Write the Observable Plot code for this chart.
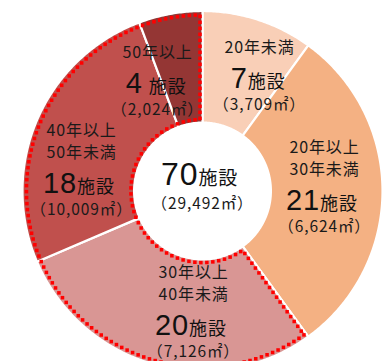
<!DOCTYPE html>
<html><head><meta charset="utf-8">
<script src="https://cdn.jsdelivr.net/npm/d3@7"></script>
<script src="https://cdn.jsdelivr.net/npm/@observablehq/plot@0.6"></script>
<style>
body{margin:0;background:#fff}
#chart svg{display:block}
#chart svg text{letter-spacing:0.9px}
</style>
</head><body><div id="chart"></div>
<script>
// ---- data ----
const categories = ["20年未満", "20年以上\n30年未満", "30年以上\n40年未満", "40年以上\n50年未満", "50年以上"];
const counts = [7, 21, 20, 18, 4];
const areas = ["3,709", "6,624", "7,126", "10,009", "2,024"];
const totalCount = 70;
const totalArea = "29,492";
const colors = ["#F9CFB7", "#F4B183", "#D99694", "#C0504D", "#943634"];
const highlighted = [false, false, true, true, true]; // 30年以上 (dotted outline)

// ---- layout ----
const W = 383, H = 361;
const R = 180, CX = 202, CY = 190.5;     // px
const INNER = 0.38, DOT_OUT = 0.978, DOT_IN = 0.398;
const labelAngle = [26.9, 94.5, 183.8, 273.5, 337.3];
const labelRadius = [0.70, 0.68, 0.75, 0.673, 0.647];
const numGap = [0, 0, 0, 0, 6];

const total = d3.sum(counts);
let acc = 0;
const slices = counts.map((c, i) => {
  const a0 = acc / total * 2 * Math.PI; acc += c;
  return {i, cat: categories[i], a0, a1: acc / total * 2 * Math.PI};
});

function sector(a0, a1, r0, r1, key, insetPx = 0) {
  const pts = [];
  const n = Math.max(2, Math.ceil((a1 - a0) / 0.01));
  const off = r => insetPx ? Math.asin(insetPx / (r * R)) : 0;
  for (let k = 0; k <= n; k++) {
    const b0 = a0 + off(r1), b1 = a1 - off(r1);
    const a = b0 + (b1 - b0) * k / n;
    pts.push({key, x: r1 * Math.sin(a), y: r1 * Math.cos(a)});
  }
  for (let k = n; k >= 0; k--) {
    const b0 = a0 + off(r0), b1 = a1 - off(r0);
    const a = b0 + (b1 - b0) * k / n;
    pts.push({key, x: r0 * Math.sin(a), y: r0 * Math.cos(a)});
  }
  pts.push({...pts[0]});
  return pts;
}

// evenly spaced dots along a polyline (spacing in px)
function sampleDots(pts, stepPx) {
  const out = [];
  let carry = 0;
  for (let k = 1; k < pts.length; k++) {
    const p = pts[k - 1], q = pts[k];
    const len = Math.hypot(q.x - p.x, q.y - p.y) * R;
    let t = carry;
    while (t <= len) {
      const f = len ? t / len : 0;
      out.push({x: p.x + (q.x - p.x) * f, y: p.y + (q.y - p.y) * f});
      t += stepPx;
    }
    carry = t - len;
  }
  return out;
}

const slicePts = slices.flatMap(s => sector(s.a0, s.a1, INNER, 1, s.cat));
const hi = slices.filter(s => highlighted[s.i]);
const outline = sector(d3.min(hi, s => s.a0), d3.max(hi, s => s.a1), DOT_IN, DOT_OUT, "hi", 2.5);
const dotPts = sampleDots(outline, 6);

// text rows (x, y in radius units; offsets in px converted)
const rangeRows = [], numRows = [], unitRows = [], areaRows = [], cNumRows = [], cUnitRows = [];
function addCount(lx, ly, dyPx, num, gap, fs, ufs, nr, ur) {
  const n = String(num).length;
  const nw = 0.47 * fs + 0.9, uw = 2 * ufs + 2;
  const tot = n * nw + gap + uw;
  const numEnd = -tot / 2 + n * nw;
  nr.push({x: lx + numEnd / R, y: ly - dyPx / R, text: String(num)});
  ur.push({x: lx + (numEnd + gap) / R, y: ly - (dyPx + (fs - ufs) * 0.33) / R, text: "施設"});
}
slices.forEach(s => {
  const a = labelAngle[s.i] * Math.PI / 180, r = labelRadius[s.i];
  const lx = r * Math.sin(a), ly = r * Math.cos(a);
  const lines = s.cat.split("\n");
  lines.forEach((t, j) => {
    const dy = lines.length === 1 ? -31 : (j === 0 ? -53 : -31);
    rangeRows.push({x: lx, y: ly - dy / R, text: t});
  });
  addCount(lx, ly, 0, counts[s.i], numGap[s.i], 29, 18, numRows, unitRows);
  areaRows.push({x: lx, y: ly - 26 / R, text: `（${areas[s.i]}㎡）`});
});
addCount(0, 0, -16, totalCount, 0, 32, 19, cNumRows, cUnitRows);
areaRows.push({x: 0, y: -13 / R, text: `（${totalArea}㎡）`});

const JP = "'Noto Sans CJK JP', 'Noto Sans', sans-serif";
const NUMF = "'Liberation Sans Narrow', 'Liberation Sans', sans-serif";

const chart = Plot.plot({
  width: W, height: H,
  margin: 0, inset: 0,
  style: {background: "#fff", fontFamily: JP},
  x: {axis: null, domain: [-CX / R, (W - CX) / R]},
  y: {axis: null, domain: [-(H - CY) / R, CY / R]},
  color: {domain: categories, range: colors},
  marks: [
    Plot.line(slicePts, {x: "x", y: "y", z: "key", fill: "key", stroke: "#fff", strokeWidth: 2.2, curve: "linear"}),
    Plot.dot(dotPts, {x: "x", y: "y", symbol: "square", r: 2, fill: "#FF0000", stroke: "none"}),
    Plot.text(rangeRows, {x: "x", y: "y", text: "text", fontSize: 16, fill: "#1a1a1a", fontFamily: JP}),
    Plot.text(numRows, {x: "x", y: "y", text: "text", fontSize: 29, fill: "#111", textAnchor: "end", fontFamily: NUMF}),
    Plot.text(unitRows, {x: "x", y: "y", text: "text", fontSize: 18, fill: "#111", textAnchor: "start", fontFamily: JP}),
    Plot.text(cNumRows, {x: "x", y: "y", text: "text", fontSize: 32, fill: "#111", textAnchor: "end", fontFamily: NUMF}),
    Plot.text(cUnitRows, {x: "x", y: "y", text: "text", fontSize: 19, fill: "#111", textAnchor: "start", fontFamily: JP}),
    Plot.text(areaRows, {x: "x", y: "y", text: "text", fontSize: 15.5, fill: "#1a1a1a", fontFamily: JP})
  ]
});
document.getElementById("chart").appendChild(chart);
</script>
</body></html>
